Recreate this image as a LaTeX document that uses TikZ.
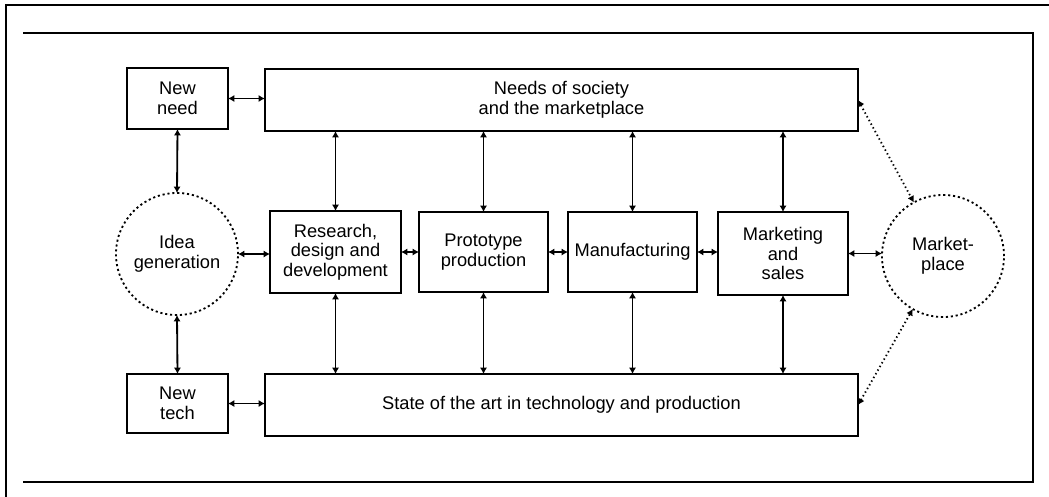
\documentclass[tikz,border=0pt]{standalone}
\usepackage{fontspec}
\setmainfont{Liberation Sans}
\usepackage{tikz}
\usetikzlibrary{arrows.meta}
\tikzset{
  box/.style={draw, line width=1.3pt, inner sep=0pt, outer sep=0pt, align=center},
  hub/.style={circle, draw, line width=1.3pt, dash pattern=on 1.5pt off 2pt,
    minimum size=3.05cm, inner sep=0pt, outer sep=0pt, align=center},
  tip/.style={{Latex[length=1.6mm,width=1.8mm]}-{Latex[length=1.6mm,width=1.8mm]}},
  link/.style={tip, line width=1.3pt},
  dotlink/.style={tip, line width=1.3pt, dash pattern=on 1pt off 2pt},
}

\begin{document}
\begin{tikzpicture}[x=0.025cm, y=-0.025cm, font=\fontsize{13}{14}\selectfont]
    \useasboundingbox (0,0) rectangle (1049,496);
    \draw[line width=1.5pt] (6,5) rectangle (1070,520);
    \draw[line width=1.3pt] (23,33) -- (1033,33) -- (1033,482) -- (23,482);

    % side boxes and the two hubs
    \node[box, minimum width=2.525cm, minimum height=1.525cm] (newneed) at (177.5,98.5) {New\\need};
    \node[box, minimum width=2.525cm, minimum height=1.475cm] (newtech) at (177.5,403.5) {New\\tech};
    \node[hub] (idea) at (177,254) {Idea\\generation};
    \node[hub] (market) at (943,256) {Market-\\place};

    % the two bands
    \node[box, minimum width=14.825cm, minimum height=1.55cm] (needs) at (561.5,100) {Needs of society\\and the marketplace};
    \node[box, minimum width=14.825cm, minimum height=1.55cm] (state) at (561.5,405) {State of the art in technology and production};

    % the chain
    \node[box, minimum width=3.275cm, minimum height=2.05cm] (rd) at (335.5,252) {Research,\\design and\\development};
    \node[box, minimum width=3.225cm, minimum height=2cm] (proto) at (483.5,252) {Prototype\\production};
    \node[box, minimum width=3.225cm, minimum height=2cm] (manuf) at (632.5,252) {Manufacturing};
    \node[box, minimum width=3.25cm, minimum height=2.075cm] (sales) at (783,253.5) {Marketing\\and\\sales};

    \draw[link] (newneed.east) -- (newneed.east -| needs.west);
    \draw[link] (newtech.east) -- (newtech.east -| state.west);
    \draw[link] (newneed.south) -- (idea.north);
    \draw[link] (idea.south) -- (newtech.north);
    \draw[link] (idea.east) -- (idea.east -| rd.west);
    \draw[link] (rd.east) -- (proto.west);
    \draw[link] (proto.east) -- (manuf.west);
    \draw[link] (manuf.east) -- (manuf.east -| sales.west);
    \draw[link] (sales.east) -- (sales.east -| market.west);
    \foreach \b in {rd,proto,manuf,sales} {
      \draw[link] (needs.south -| \b) -- (\b.north);
      \draw[link] (\b.south) -- (state.north -| \b);
    }
    \draw[dotlink] (needs.east) -- (market);
    \draw[dotlink] (state.east) -- (market);
\end{tikzpicture}
\end{document}
